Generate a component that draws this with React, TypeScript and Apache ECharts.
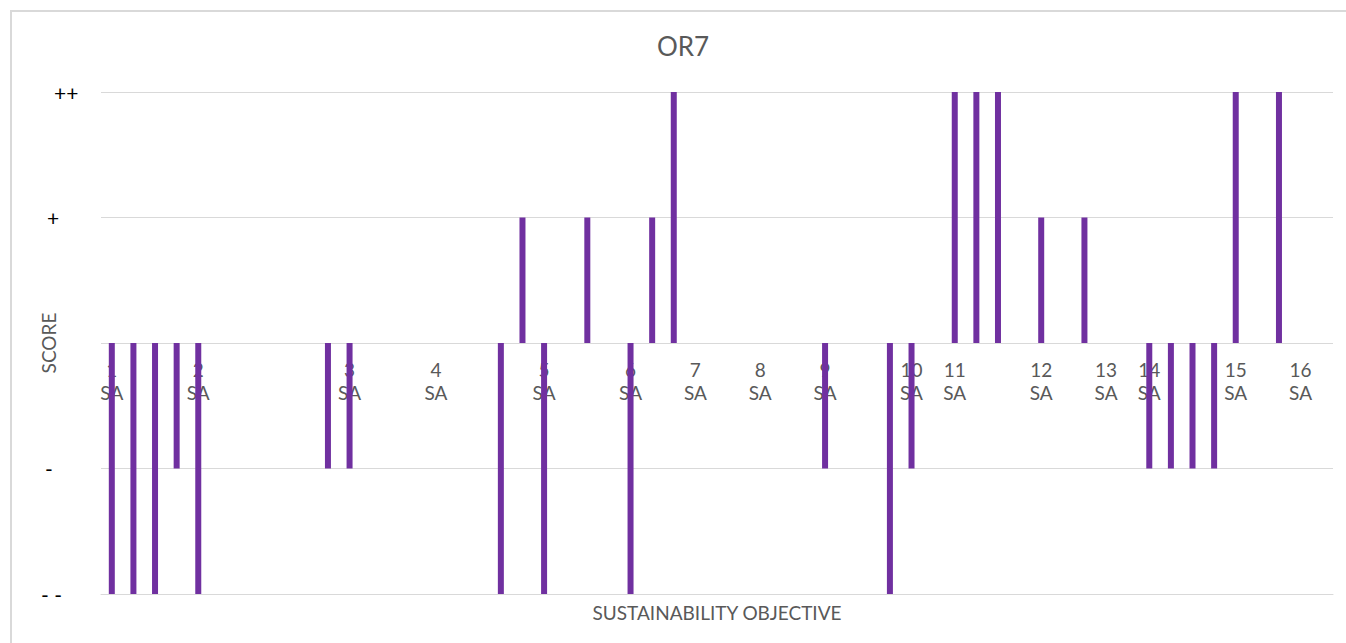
import React, { useEffect, useRef } from "react";
import * as echarts from "echarts";

const TITLE = "OR7";
const X_NAME = "SUSTAINABILITY OBJECTIVE";
const Y_NAME = "SCORE";

// Category axis labels (57 slots, only some labelled)
const categories: string[] = [
  "1\nSA", "", "", "", "2\nSA", "", "", "", "", "",
  "", "3\nSA", "", "", "", "4\nSA", "", "", "", "",
  "5\nSA", "", "", "", "6\nSA", "", "", "7\nSA", "", "",
  "8\nSA", "", "", "9\nSA", "", "", "", "10\nSA", "", "11\nSA",
  "", "", "", "12\nSA", "", "", "13\nSA", "", "14\nSA", "",
  "", "", "15\nSA", "", "", "16\nSA", "",
];

// Scores: -2 = "- -", -1 = "-", 1 = "+", 2 = "++"
const scores: (number | null)[] = [
  -2, -2, -2, -1, -2, null, null, null, null, null,
  -1, -1, null, null, null, null, null, null, -2, 1,
  -2, null, 1, null, -2, 1, 2, null, null, null,
  null, null, null, -1, null, null, -2, -1, null, 2,
  2, 2, null, 1, null, 1, null, null, -1, -1,
  -1, -1, 2, null, 2, null, null,
];

const scoreTicks: number[] = [-2, -1, 0, 1, 2];
const scoreLabels: string[] = ["- -", "-", "", "+", "++"];
const scorePad: number[] = [0, 4, 0, 6, 13];

const FONT = "Lato, 'Open Sans', sans-serif";
const GRAY = "#595959";
const GRID = "#D9D9D9";
const PURPLE = "#7030A0";

export default function App() {
  const ref = useRef<HTMLDivElement>(null);

  useEffect(() => {
    if (!ref.current) return;
    const chart = echarts.init(ref.current, undefined, { renderer: "svg" });
    const rich: Record<string, any> = {};
    scoreTicks.forEach((t, i) => {
      rich["p" + i] = {
        color: "#000",
        fontSize: 21,
        fontFamily: FONT,
        padding: [0, 0, 0, scorePad[i]],
      };
    });
    chart.setOption({
      animation: false,
      backgroundColor: "#fff",
      textStyle: { fontFamily: FONT },
      title: {
        text: TITLE,
        left: 683,
        top: 33,
        padding: 0,
        textAlign: "center",
        textStyle: { color: GRAY, fontSize: 26, fontWeight: "normal", fontFamily: FONT },
      },
      graphic: [
        {
          type: "rect",
          shape: { x: 11, y: 11, width: 2000, height: 2000 },
          style: { fill: "none", stroke: GRID, lineWidth: 2 },
          silent: true,
        },
      ],
      grid: {
        left: 101,
        right: 13,
        top: 92,
        bottom: 49,
        containLabel: false,
        outerBoundsMode: "none",
      },
      xAxis: {
        type: "category",
        data: categories,
        boundaryGap: true,
        name: X_NAME,
        nameLocation: "middle",
        nameGap: 9,
        nameMoveOverlap: false,
        nameTextStyle: { color: GRAY, fontSize: 19, fontFamily: FONT },
        axisLine: { show: true, onZero: false, lineStyle: { color: GRID, width: 1 } },
        axisTick: { show: false },
        axisLabel: {
          interval: 0,
          hideOverlap: false,
          color: GRAY,
          fontSize: 19,
          fontFamily: FONT,
          lineHeight: 23,
          margin: -236,
        },
        splitLine: { show: false },
      },
      yAxis: {
        type: "value",
        min: -2,
        max: 2,
        interval: 1,
        name: Y_NAME,
        nameLocation: "middle",
        nameGap: 43,
        nameMoveOverlap: false,
        nameTextStyle: { color: GRAY, fontSize: 19, fontFamily: FONT },
        axisLine: { show: false },
        axisTick: { show: false },
        axisLabel: {
          align: "left",
          margin: 60,
          formatter: (v: number) => {
            const i = scoreTicks.indexOf(v);
            if (i < 0 || !scoreLabels[i]) return "";
            return "{p" + i + "|" + scoreLabels[i] + "}";
          },
          rich,
        },
        splitLine: { show: true, lineStyle: { color: GRID, width: 1 } },
      },
      series: [
        {
          type: "bar",
          data: scores,
          barWidth: 6,
          itemStyle: { color: PURPLE },
        },
      ],
    });
    return () => chart.dispose();
  }, []);

  return (
    <div
      ref={ref}
      style={{ position: "absolute", left: 0, top: 0, width: 1346, height: 643 }}
    />
  );
}
